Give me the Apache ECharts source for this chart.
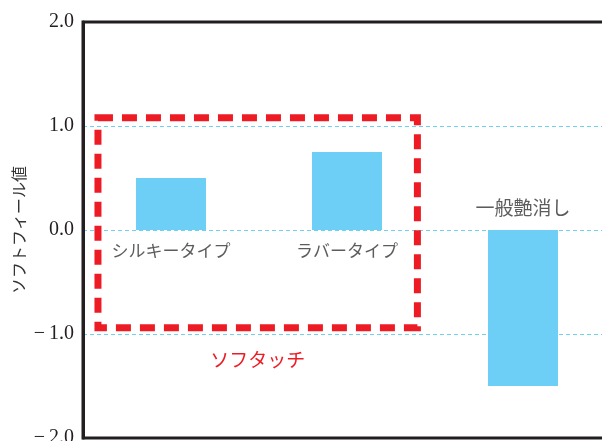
<!DOCTYPE html>
<html>
<head>
<meta charset="utf-8">
<script src="https://cdn.jsdelivr.net/npm/echarts@6/dist/echarts.min.js"></script>
<style>
  html, body { margin: 0; padding: 0; background: #fff; }
  #chart { width: 602px; height: 441px; }
</style>
</head>
<body>
<div id="chart"></div>
<script>
// data
const categories = ["シルキータイプ", "ラバータイプ", "一般艶消し"];
const values = [0.5, 0.75, -1.5];
const groupName = "ソフタッチ";
// dashed frame around the first two products (x in category units, y in value units)
const groupBox = [[0.085, 1.08], [1.9, -0.94]];

const jpFont = '"Noto Sans CJK JP", sans-serif';

const chart = echarts.init(document.getElementById("chart"));

const option = {
  animation: false,
  grid: {
    left: 83,
    top: 22,
    width: 528,
    height: 416,
    outerBoundsMode: "none",
    containLabel: false,
    show: true,
    borderColor: "#231f20",
    borderWidth: 3,
    backgroundColor: "transparent",
  },
  xAxis: [
    {
      type: "category",
      data: categories,
      axisLine: { show: false },
      axisTick: { show: false },
      axisLabel: { show: false },
    },
    {
      type: "value",
      min: 0,
      max: 3,
      show: false,
    },
  ],
  yAxis: {
    type: "value",
    min: -2,
    max: 2,
    interval: 1,
    name: "ソフトフィール値",
    nameLocation: "middle",
    nameGap: 56,
    nameMoveOverlap: false,
    nameRotate: 90,
    nameTextStyle: { fontFamily: jpFont, fontSize: 16, color: "#333" },
    axisLine: { show: true, lineStyle: { color: "#231f20", width: 3 } },
    axisTick: { show: false },
    axisLabel: {
      margin: 9,
      fontFamily: '"Liberation Serif", serif',
      fontSize: 20,
      color: "#231f20",
      formatter: function (v) {
        if (v < 0) return "\u2212\u2009" + Math.abs(v).toFixed(1);
        return v.toFixed(1);
      },
    },
    splitLine: {
      show: true,
      showMinLine: false,
      showMaxLine: false,
      lineStyle: { color: "#6fd0f3", type: [4, 3], width: 1 },
    },
  },
  series: [
    {
      type: "bar",
      data: values,
      barWidth: 70,
      itemStyle: { color: "#6dcff6" },
      z: 3,
    },
    {
      // 商品名ラベル（ゼロ線の反対側に表示）
      type: "scatter",
      symbolSize: 1,
      itemStyle: { color: "rgba(0,0,0,0)" },
      data: values.map(function (v, i) {
        return {
          value: 0,
          label: {
            show: true,
            position: v >= 0 ? "bottom" : "top",
            distance: 12,
            formatter: categories[i],
            fontFamily: jpFont,
            fontSize: v >= 0 ? 17 : 19,
            color: "#333",
          },
        };
      }),
      z: 4,
    },
    {
      type: "line",
      xAxisIndex: 1,
      data: [],
      markArea: {
        silent: true,
        itemStyle: {
          color: "rgba(0,0,0,0)",
          borderColor: "#ed1c24",
          borderWidth: 7,
          borderType: [15, 9],
        },
        label: {
          show: true,
          position: "bottom",
          distance: 19,
          fontFamily: jpFont,
          fontSize: 19,
          color: "#ed1c24",
        },
        data: [
          [
            { name: groupName, coord: groupBox[0] },
            { coord: groupBox[1] },
          ],
        ],
      },
    },
  ],
};

chart.setOption(option);
</script>
</body>
</html>
